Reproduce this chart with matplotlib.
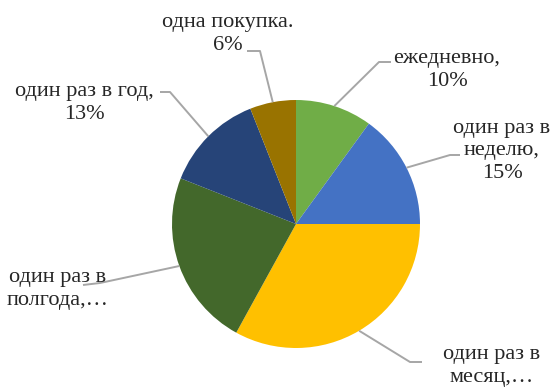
import numpy as np
import matplotlib
matplotlib.use("Agg")
import matplotlib.pyplot as plt

plt.rcParams['font.family'] = 'serif'
plt.rcParams['font.serif'] = ['Liberation Serif', 'DejaVu Serif']

# purchase frequency shares, clockwise from 12 o'clock
labels = ['ежедневно,\n10%', 'один раз в\nнеделю,\n15%', 'один раз в\nмесяц,…',
          'один раз в\nполгода,…', 'один раз в год,\n13%', 'одна покупка.\n6%']
shares = [10, 15, 33, 23, 13, 6]
colors = ['#70AD47', '#4472C4', '#FFC000', '#43682B', '#264478', '#997300']

# label centres and leader elbow/end points (pixel coords, y from top)
label_xy = [(447, 70), (502, 151), (492, 366), (58, 289), (84, 103), (228, 34)]
leader_pts = [[(379, 62), (391, 62)],
              [(450, 155), (460, 155)],
              [(410, 362), (422, 362)],
              [(100, 283), (83, 285)],
              [(170, 92), (160, 92)],
              [(260, 51), (247, 51)]]

W, H = 552, 390
fig = plt.figure(figsize=(5.52, 3.9), dpi=100)
ax = fig.add_axes([0, 0, 1, 1])

cx, cy, r = 296, H - 224, 124
wedges, _ = ax.pie(shares, colors=colors, startangle=90, counterclock=False,
                   center=(cx, cy), radius=r, frame=True,
                   wedgeprops=dict(linewidth=0))
ax.set_xlim(0, W)
ax.set_ylim(0, H)
ax.set_aspect('equal')
ax.axis('off')

for w, lab, (tx, ty), pts in zip(wedges, labels, label_xy, leader_pts):
    mid = np.deg2rad((w.theta1 + w.theta2) / 2)
    ex, ey = cx + r * np.cos(mid), cy + r * np.sin(mid)
    xs = [ex] + [p[0] for p in pts]
    ys = [ey] + [H - p[1] for p in pts]
    ax.plot(xs, ys, color='#A6A6A6', lw=1.4, solid_capstyle='butt')
    ax.text(tx, H - ty, lab, ha='center', va='center', fontsize=16,
            color='#262626', linespacing=1.25)

fig.savefig('out.png', dpi=100, facecolor='white')
